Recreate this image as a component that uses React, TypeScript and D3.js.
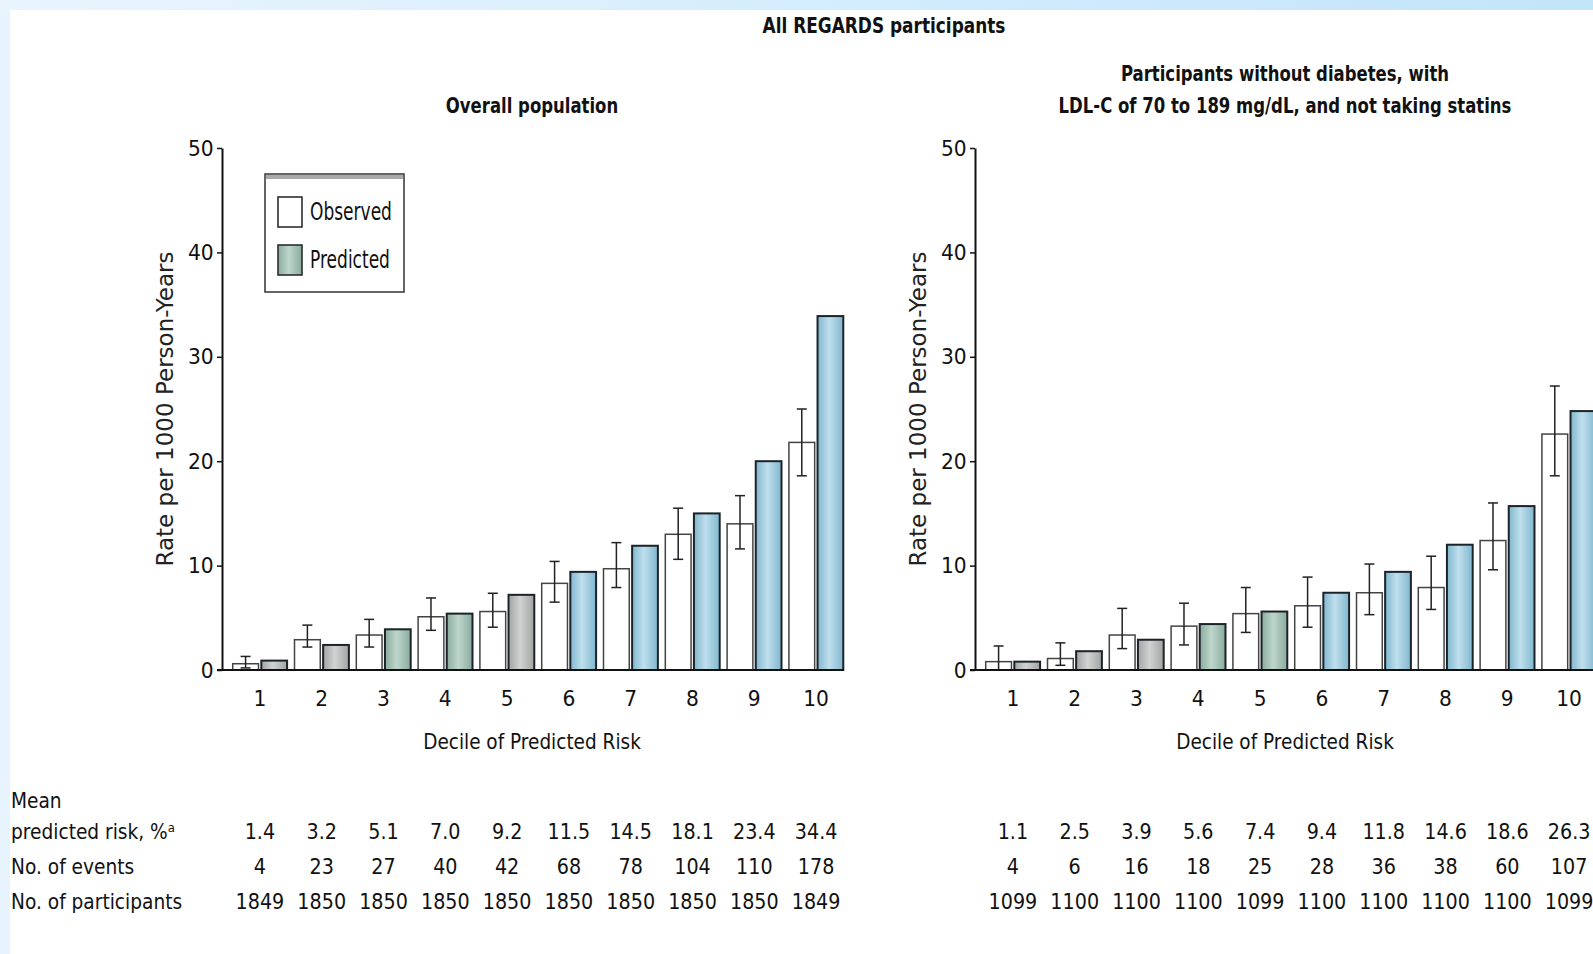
import React, { useRef, useEffect } from "react";
import * as d3 from "d3";

// deciles of predicted risk
const deciles = ["1", "2", "3", "4", "5", "6", "7", "8", "9", "10"];

// overall population (rate per 1000 person-years)
const overallObserved = [0.6, 2.9, 3.35, 5.1, 5.6, 8.3, 9.7, 13.0, 14.0, 21.8];
const overallObsLow = [0.2, 2.2, 2.2, 3.8, 4.1, 6.5, 7.9, 10.6, 11.6, 18.6];
const overallObsHigh = [1.3, 4.3, 4.85, 6.9, 7.35, 10.4, 12.2, 15.5, 16.7, 25.0];
const overallPredicted = [0.9, 2.4, 3.9, 5.4, 7.2, 9.4, 11.9, 15.0, 20.0, 33.9];

// without diabetes, LDL-C 70-189, no statins
const subObserved = [0.8, 1.1, 3.35, 4.2, 5.4, 6.15, 7.4, 7.9, 12.4, 22.6];
const subObsLow = [0.0, 0.45, 2.05, 2.4, 3.6, 4.1, 5.3, 5.8, 9.6, 18.6];
const subObsHigh = [2.3, 2.6, 5.9, 6.4, 7.9, 8.9, 10.15, 10.9, 16.0, 27.2];
const subPredicted = [0.8, 1.8, 2.9, 4.4, 5.6, 7.4, 9.4, 12.0, 15.7, 24.8];

// table under the charts
const overallRisk = ["1.4", "3.2", "5.1", "7.0", "9.2", "11.5", "14.5", "18.1", "23.4", "34.4"];
const overallEvents = ["4", "23", "27", "40", "42", "68", "78", "104", "110", "178"];
const overallN = ["1849", "1850", "1850", "1850", "1850", "1850", "1850", "1850", "1850", "1849"];
const subRisk = ["1.1", "2.5", "3.9", "5.6", "7.4", "9.4", "11.8", "14.6", "18.6", "26.3"];
const subEvents = ["4", "6", "16", "18", "25", "28", "36", "38", "60", "107"];
const subN = ["1099", "1100", "1100", "1100", "1099", "1100", "1100", "1100", "1100", "1099"];

const yTicks = [0, 10, 20, 30, 40, 50];

// bar tones
const tones = {
  gray: ["#a0a4a2", "#d0d3d1"],
  green: ["#8aab9e", "#bdd6cb"],
  blue: ["#80b7cf", "#bfdfec"],
};
const overallTones = ["gray", "gray", "green", "green", "gray", "blue", "blue", "blue", "blue", "blue"];
const subTones = ["gray", "gray", "gray", "green", "green", "blue", "blue", "blue", "blue", "blue"];

const FONT = "'DejaVu Sans', sans-serif";

const App = () => {
  const ref = useRef(null);

  useEffect(() => {
    if (!ref.current) return;
    const svg = d3.select(ref.current);
    svg.selectAll("*").remove();
    const W = 1593;
    const H = 954;

    // squeezed text, the original uses a condensed face
    function narrow(parent, x, y, txt, opts: any = {}) {
      const size = opts.size || 22;
      const sx = opts.sx || 0.92;
      return parent
        .append("text")
        .attr("transform", `translate(${x},${y}) scale(${sx},1)`)
        .attr("text-anchor", opts.anchor || "middle")
        .attr("dy", opts.dy || "0.35em")
        .style("font-family", FONT)
        .style("font-weight", opts.bold ? "bold" : "normal")
        .style("font-size", size + "px")
        .attr("fill", "#111")
        .text(txt);
    }

    // gradients
    const defs = svg.append("defs");
    Object.entries(tones).forEach(([k, c]) => {
      const lg = defs
        .append("linearGradient")
        .attr("id", "g-" + k)
        .attr("x1", "0%")
        .attr("x2", "100%");
      lg.append("stop").attr("offset", "0%").attr("stop-color", c[0]);
      lg.append("stop").attr("offset", "45%").attr("stop-color", c[1]);
      lg.append("stop").attr("offset", "100%").attr("stop-color", c[0]);
    });
    const top = defs.append("linearGradient").attr("id", "border-top").attr("x1", "0%").attr("x2", "100%");
    top.append("stop").attr("offset", "0%").attr("stop-color", "#e9f5fd");
    top.append("stop").attr("offset", "100%").attr("stop-color", "#c2e4fb");

    svg.append("rect").attr("width", W).attr("height", H).attr("fill", "#fff");
    svg.append("rect").attr("width", W).attr("height", 10).attr("fill", "url(#border-top)");
    svg.append("rect").attr("y", 10).attr("width", 10).attr("height", H - 10).attr("fill", "#e8f4fd");

    const y = d3.scaleLinear().domain([0, 50]).range([670, 148]);

    narrow(svg, 884, 25, "All REGARDS participants", { bold: true, sx: 0.77 });

    function drawPanel(axisX, titles, observed, low, high, predicted, toneList, rows) {
      const g = svg.append("g");
      const x = d3
        .scaleBand()
        .domain(deciles)
        .range([axisX + 7, axisX + 625])
        .paddingInner(0.12)
        .paddingOuter(0.06);
      const x1 = d3.scaleBand().domain(["obs", "pred"]).range([0, x.bandwidth()]).paddingInner(0.1);
      const cx = axisX + 310;

      titles.forEach((t, i) => {
        narrow(g, cx, 105 - (titles.length - 1 - i) * 32, t, { bold: true, sx: 0.75 });
      });

      // y axis
      const yAxis = g
        .append("g")
        .attr("transform", `translate(${axisX},0)`)
        .call(d3.axisLeft(y).tickValues(yTicks).tickSize(5).tickSizeOuter(0).tickPadding(4));
      yAxis.select(".domain").attr("stroke", "#111").attr("stroke-width", 2);
      yAxis.selectAll(".tick line").attr("stroke", "#111").attr("stroke-width", 1.5);
      yAxis
        .selectAll(".tick text")
        .attr("transform", "scale(0.92,1)")
        .style("font-family", FONT)
        .style("font-size", "22px")
        .attr("fill", "#111");

      g.append("text")
        .attr("transform", `translate(${axisX - 57},${y(25)}) rotate(-90)`)
        .attr("text-anchor", "middle")
        .attr("dy", "0.35em")
        .style("font-family", FONT)
        .style("font-size", "23px")
        .attr("fill", "#222")
        .text("Rate per 1000 Person-Years");

      // bars
      const groups = g
        .append("g")
        .selectAll("g")
        .data(deciles)
        .join("g")
        .attr("transform", (d) => `translate(${x(d)},0)`);

      groups
        .append("rect")
        .attr("x", x1("obs"))
        .attr("width", x1.bandwidth())
        .attr("y", (d, i) => y(observed[i]))
        .attr("height", (d, i) => y(0) - y(observed[i]))
        .attr("fill", "#fff")
        .attr("stroke", "#444")
        .attr("stroke-width", 1.5);

      groups
        .append("rect")
        .attr("x", x1("pred"))
        .attr("width", x1.bandwidth())
        .attr("y", (d, i) => y(predicted[i]))
        .attr("height", (d, i) => y(0) - y(predicted[i]))
        .attr("fill", (d, i) => `url(#g-${toneList[i]})`)
        .attr("stroke", "#1c2328")
        .attr("stroke-width", 2);

      // error bars
      const ex = x1("obs") + x1.bandwidth() / 2;
      groups
        .append("line")
        .attr("x1", ex)
        .attr("x2", ex)
        .attr("y1", (d, i) => y(low[i]))
        .attr("y2", (d, i) => y(high[i]))
        .attr("stroke", "#222")
        .attr("stroke-width", 1.5);
      [low, high].forEach((arr) => {
        groups
          .append("line")
          .attr("x1", ex - 5)
          .attr("x2", ex + 5)
          .attr("y1", (d, i) => y(arr[i]))
          .attr("y2", (d, i) => y(arr[i]))
          .attr("stroke", "#222")
          .attr("stroke-width", 1.5);
      });

      // x axis
      g.append("line")
        .attr("x1", axisX - 5)
        .attr("x2", axisX + 622)
        .attr("y1", y(0))
        .attr("y2", y(0))
        .attr("stroke", "#111")
        .attr("stroke-width", 2);

      deciles.forEach((d) => {
        narrow(g, x(d) + x.bandwidth() / 2, 698, d);
      });

      narrow(g, cx, 741, "Decile of Predicted Risk", { sx: 0.84 });

      // table
      const rowY = [831, 866, 901];
      rows.forEach((vals, r) => {
        vals.forEach((v, i) => {
          narrow(g, x(deciles[i]) + x.bandwidth() / 2, rowY[r], v, { sx: 0.87 });
        });
      });

      return g;
    }

    const left = drawPanel(
      222,
      ["Overall population"],
      overallObserved,
      overallObsLow,
      overallObsHigh,
      overallPredicted,
      overallTones,
      [overallRisk, overallEvents, overallN]
    );
    drawPanel(
      975,
      ["Participants without diabetes, with", "LDL-C of 70 to 189 mg/dL, and not taking statins"],
      subObserved,
      subObsLow,
      subObsHigh,
      subPredicted,
      subTones,
      [subRisk, subEvents, subN]
    );

    // legend
    const leg = left.append("g");
    leg
      .append("rect")
      .attr("x", 265)
      .attr("y", 174)
      .attr("width", 139)
      .attr("height", 118)
      .attr("fill", "#fff")
      .attr("stroke", "#333")
      .attr("stroke-width", 1.5);
    leg.append("rect").attr("x", 266).attr("y", 175).attr("width", 137).attr("height", 4).attr("fill", "#aaa");
    const items = [
      { label: "Observed", fill: "#fff", y: 197 },
      { label: "Predicted", fill: "url(#g-green)", y: 245 },
    ];
    items.forEach((it) => {
      leg
        .append("rect")
        .attr("x", 278)
        .attr("y", it.y)
        .attr("width", 24)
        .attr("height", 30)
        .attr("fill", it.fill)
        .attr("stroke", "#222")
        .attr("stroke-width", 1.5);
      narrow(leg, 310, it.y + 15, it.label, { anchor: "start", size: 24, sx: 0.71 });
    });

    // row labels
    const rowLabels = [
      { t: "Mean", y: 800 },
      { t: "predicted risk, %\u1d43", y: 831 },
      { t: "No. of events", y: 866 },
      { t: "No. of participants", y: 901 },
    ];
    rowLabels.forEach((r) => {
      narrow(svg, 11, r.y, r.t, { anchor: "start", sx: 0.845 });
    });
  }, []);

  return (
    <div style={{ position: "absolute", left: 0, top: 0, width: 1593, height: 954, overflow: "hidden" }}>
      <svg ref={ref} width={1593} height={954} style={{ display: "block" }} />
    </div>
  );
};

export default App;
